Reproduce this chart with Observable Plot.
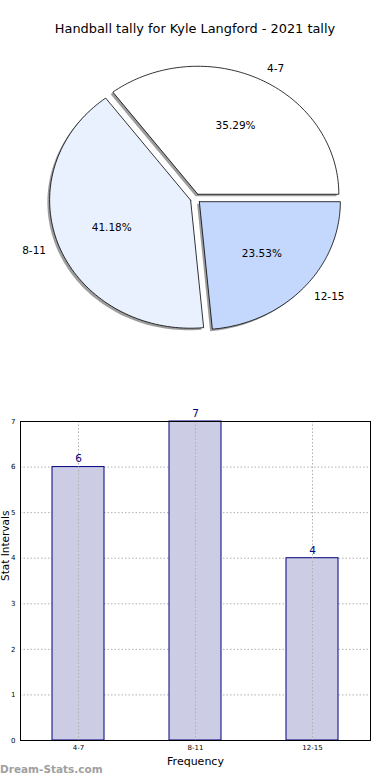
<!DOCTYPE html>
<html>
<head>
<meta charset="utf-8">
<script src="https://cdn.jsdelivr.net/npm/d3@7"></script>
<script src="https://cdn.jsdelivr.net/npm/@observablehq/plot@0.6"></script>
<style>
  html, body { margin: 0; padding: 0; background: #fff; }
  #wrap { position: relative; width: 390px; height: 780px; overflow: hidden; font-family: "DejaVu Sans", sans-serif; }
  #title { position: absolute; top: 21px; left: 0; width: 390px; text-align: center; font-size: 12.9px; color: #000; }
  #pie { position: absolute; top: 40px; left: 0; }
  #bar { position: absolute; top: 400px; left: 0; }
  #wm { position: absolute; left: 0px; top: 763px; font-size: 10.5px; font-weight: bold; color: #a0a0a0; }
  svg text { font-family: "DejaVu Sans", sans-serif; }
</style>
</head>
<body>
<div id="wrap">
  <div id="title">Handball tally for Kyle Langford - 2021 tally</div>
  <div id="pie"></div>
  <div id="bar"></div>
  <div id="wm">Dream-Stats.com</div>
</div>
<script>
const categories = ["4-7", "8-11", "12-15"];
const values = [6, 7, 4];
const sliceColors = ["#ffffff", "#eaf1fe", "#c4d8fe"];
const yTicks = [0, 1, 2, 3, 4, 5, 6, 7];

const explode = 0.037;
const total = d3.sum(values);

// Build slice geometry (matplotlib style: start at 0 rad, counter-clockwise)
const slices = [];
let acc = 0;
categories.forEach((c, i) => {
  const a0 = acc / total * 2 * Math.PI;
  acc += values[i];
  const a1 = acc / total * 2 * Math.PI;
  const am = (a0 + a1) / 2;
  const ox = explode * Math.cos(am), oy = explode * Math.sin(am);
  slices.push({cat: c, value: values[i], color: sliceColors[i], a0, a1, am, ox, oy, pct: (values[i] / total * 100).toFixed(2) + "%"});
});

function poly(s, dx, dy) {
  const pts = [{cat: s.cat, color: s.color, x: s.ox + dx, y: s.oy + dy}];
  const n = 90;
  for (let k = 0; k <= n; k++) {
    const a = s.a0 + (s.a1 - s.a0) * k / n;
    pts.push({cat: s.cat, color: s.color, x: s.ox + dx + Math.cos(a), y: s.oy + dy + Math.sin(a)});
  }
  pts.push({cat: s.cat, color: s.color, x: s.ox + dx, y: s.oy + dy});
  return pts;
}
const shadowPts = slices.flatMap(s => poly(s, -0.016, -0.016));
const slicePts = slices.flatMap(s => poly(s, 0, 0));

const labels = slices.map(s => ({
  cat: s.cat,
  x: s.ox + 1.1 * Math.cos(s.am),
  y: s.oy + 1.1 * Math.sin(s.am),
  anchor: (s.ox + 1.1 * Math.cos(s.am)) > 0 ? "start" : "end"
}));
const pcts = slices.map(s => ({
  pct: s.pct,
  x: s.ox + 0.6 * Math.cos(s.am),
  y: s.oy + 0.6 * Math.sin(s.am)
}));

const cx = 195, cy = 158, rx = 141, ry = 128;
const pie = Plot.plot({
  width: 390, height: 320,
  margin: 0,
  x: {domain: [-1, 1], range: [cx - rx, cx + rx], axis: null},
  y: {domain: [-1, 1], range: [cy + ry, cy - ry], axis: null},
  color: {type: "identity"},
  marks: [
    Plot.line(shadowPts, {x: "x", y: "y", z: "cat", fill: "#4d4d4d", fillOpacity: 0.55, stroke: "none", curve: "linear"}),
    Plot.line(slicePts, {x: "x", y: "y", z: "cat", fill: "color", stroke: "#000", strokeWidth: 0.8, curve: "linear"}),
    Plot.text(labels.filter(d => d.anchor === "start"), {x: "x", y: "y", text: "cat", textAnchor: "start", fontSize: 10.5, fill: "#000"}),
    Plot.text(labels.filter(d => d.anchor === "end"), {x: "x", y: "y", text: "cat", textAnchor: "end", fontSize: 10.5, fill: "#000"}),
    Plot.text(pcts, {x: "x", y: "y", text: "pct", fontSize: 10.5, fill: "#000"})
  ]
});
document.getElementById("pie").appendChild(pie);

const barData = categories.map((c, i) => ({cat: c, value: values[i]}));
const bar = Plot.plot({
  width: 390, height: 380,
  marginTop: 21, marginBottom: 40, marginLeft: 20, marginRight: 20,
  x: {domain: categories, paddingInner: 0.554, paddingOuter: 0.265, label: null},
  y: {domain: [0, 7], label: null},
  marks: [
    Plot.gridY(yTicks, {stroke: "#b0b0b0", strokeOpacity: 1, strokeDasharray: "1.5,2"}),
    Plot.barY(barData, {x: "cat", y: "value", fill: "#ccccE5", stroke: "#000080", strokeWidth: 1}),
    Plot.gridX(categories, {stroke: "#b0b0b0", strokeOpacity: 1, strokeDasharray: "1.5,2"}),
    Plot.axisY(yTicks, {tickSize: 0, tickPadding: 5, fontSize: 7, tickFormat: d => d, label: null}),
    Plot.axisX({tickSize: 0, tickPadding: 5, fontSize: 7, label: null}),
    Plot.text(barData, {x: "cat", y: "value", text: d => String(d.value), dy: -8, fill: "#000080", fontSize: 10.5}),
    Plot.frame({stroke: "#000", strokeWidth: 1}),
    Plot.text(["Frequency"], {frameAnchor: "bottom", dy: 24, fontSize: 11, fill: "#000"}),
    Plot.text(["Stat Intervals"], {frameAnchor: "left", dx: -15, rotate: -90, fontSize: 10.5, fill: "#000"})
  ]
});
document.getElementById("bar").appendChild(bar);
</script>
</body>
</html>
